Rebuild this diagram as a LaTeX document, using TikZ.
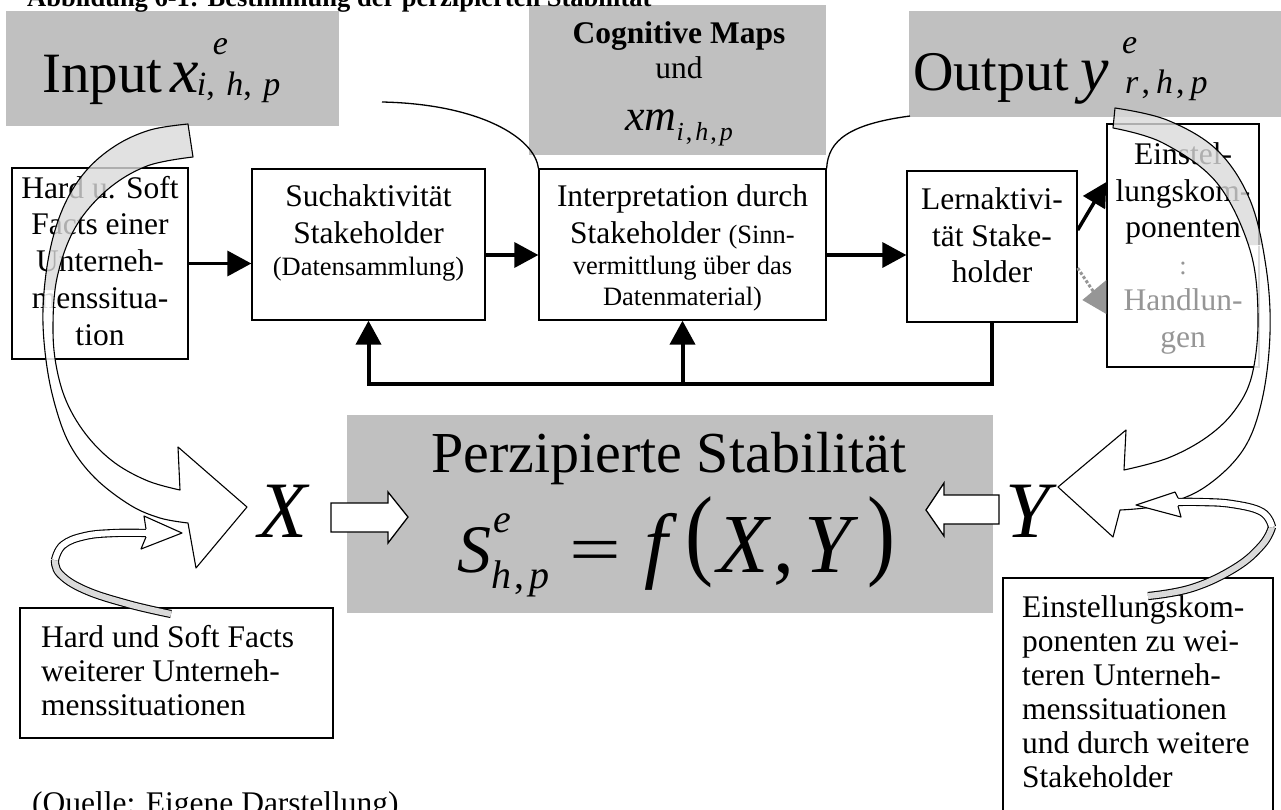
\documentclass[tikz,border=0pt]{standalone}
\usepackage{fontspec}
\setmainfont{Liberation Serif}
\usepackage{xcolor}
\definecolor{boxgray}{RGB}{192,192,192}
\definecolor{ribgray}{RGB}{218,218,218}
\definecolor{txtgray}{RGB}{150,150,150}
\usepackage{graphicx}
\usepackage{tikz}
\usetikzlibrary{arrows.meta, positioning, calc}

\newcommand{\bodyfont}{\fontsize{31.5}{36.5}\selectfont}
\newcommand{\smallbody}{\fontsize{26.5}{31}\selectfont}
\newcommand{\sidefont}{\fontsize{31.5}{34}\selectfont}
\newcommand{\subfont}{\fontsize{34}{36}\selectfont}

% outlines of the two big curved arrows
\newcommand{\bigleftpath}{plot[smooth, tension=0.6] coordinates {(188,124) (150,130) (115,146) (85,172) (63,208) (49,255) (43,310) (46,360) (55,405) (70,445) (95,478) (130,505) (160,518) (188,523)} -- (196,568) -- (247,507) -- (178,447) -- plot[smooth, tension=0.6] coordinates {(180,490) (148,481) (115,463) (88,437) (68,405) (57,370) (53,330) (57,278) (75,228) (107,190) (147,166) (193,157)} -- cycle}
\newcommand{\bigrightpath}{plot[smooth, tension=0.6] coordinates {(1115,108) (1167,120) (1217,150) (1250,200) (1266,267) (1270,333) (1262,400) (1243,450) (1205,487) (1162,505) (1120,510)} -- (1113,537) -- (1058,487) -- (1126,430) -- plot[smooth, tension=0.6] coordinates {(1124,470) (1168,458) (1207,437) (1235,410) (1252,375) (1258,317) (1250,250) (1217,183) (1163,143) (1113,128)} -- cycle}

\begin{document}
\begin{tikzpicture}[x=1pt, y=-1pt,
    graybox/.style={fill=boxgray, inner sep=0pt},
    procbox/.style={draw, fill=white, line width=1.3pt, inner sep=0pt},
    boxtext/.style={align=center, inner sep=0pt, font=\bodyfont, anchor=north},
    sidetext/.style={align=left, inner sep=0pt, font=\sidefont, anchor=north west},
    flow/.style={line width=3.5pt, -{Triangle[length=24pt, width=25pt]}},
    loopline/.style={line width=4pt, -{Triangle[length=24pt, width=25pt]}},
    thinarc/.style={line width=1.3pt},
    ribline/.style={line width=1.1pt, line join=round},
    ribbon/.style={double distance=6pt, line width=1.1pt},
    hollow/.style={draw, fill=white, line width=1.3pt}]

  \useasboundingbox (0,0) rectangle (1281,809);
  \fill[white] (0,0) rectangle (1281,809);

  % gray panels
  \node[graybox, minimum width=333pt, minimum height=115pt] (inputbg) at (172.5,68.5) {};
  \node[graybox, minimum width=297pt, minimum height=150pt] (cogbg) at (677.5,80) {};
  \node[graybox, minimum width=372pt, minimum height=106pt] (outbg) at (1095,64) {};
  \node[graybox, minimum width=646pt, minimum height=198pt] (perzbg) at (670,514) {};

  % process boxes
  \node[procbox, minimum width=176pt, minimum height=191pt] (hardsoft) at (100,263.5) {};
  \node[procbox, minimum width=233pt, minimum height=151pt] (such) at (368.5,244.5) {};
  \node[procbox, minimum width=287pt, minimum height=151pt] (interp) at (682.5,244.5) {};
  \node[procbox, minimum width=170pt, minimum height=151pt] (lern) at (992,246.5) {};
  \node[procbox, minimum width=152pt, minimum height=243pt] (einst) at (1183,245.5) {};
  \node[procbox, minimum width=313pt, minimum height=130pt] (facts) at (176.5,673) {};
  \node[procbox, minimum width=270pt, minimum height=262pt] (einstmore) at (1138,709) {};

  % thin arcs to the interpretation box
  \coordinate (arcin) at (382,102);
  \coordinate (arcout) at (910,116);
  \draw[thinarc] (arcin) .. controls (480,104) and (535,138) .. (interp.north west);
  \draw[thinarc] (interp.north east) .. controls (828,140) and (850,124) .. (arcout);

  % process flow
  \draw[flow] (hardsoft.east) -- (hardsoft.east -| such.west);
  \draw[flow] ([yshift=-10.5pt]such.east) -- ([yshift=-10.5pt]interp.west);
  \draw[flow] ([yshift=-10.5pt]interp.east) -- ([yshift=-8.5pt]lern.west);
  \draw[flow] ([yshift=16.5pt]lern.east) -- ([yshift=63.5pt]einst.west);
  \draw[txtgray, line width=3pt, dotted] ([yshift=-21.5pt]lern.east) -- ++(16,24);
  \fill[txtgray] ([yshift=-34.5pt]einst.west) -- ++(-24,20) -- ++(24,14) -- cycle;

  % feedback loop
  \coordinate (loop) at ($(lern.south)+(0,61)$);
  \draw[loopline] (lern.south) -- (loop) -| (such.south);
  \draw[loopline] (interp.south |- loop) -- (interp.south);

  % texts
  \node[anchor=base west, inner sep=0pt, font=\fontsize{26.5}{30}\selectfont\bfseries] (title) at (27,6) {Abbildung 6-1: Bestimmung der perzipierten Stabilität};
  \node[anchor=base west, inner sep=0pt] (inputtxt) at (42,92) {\fontsize{57}{60}\selectfont Input\hspace{8pt}\fontsize{64}{70}\selectfont\textit{x}\rlap{\hspace{14pt}\raisebox{38pt}{\subfont\textit{e}}}\hspace{-2pt}\raisebox{-3pt}{\subfont\textit{i},\hspace{3pt} \textit{h},\hspace{3pt} \textit{p}}};
  \node[anchor=base west, inner sep=0pt] (outtxt) at (913,90) {\fontsize{56}{60}\selectfont Output\hspace{12pt}\fontsize{64}{70}\selectfont\textit{y}\rlap{\hspace{13pt}\raisebox{37pt}{\subfont\textit{e}}}\hspace{16pt}\raisebox{-3pt}{\subfont\textit{r}\hspace{3pt},\hspace{6pt}\textit{h}\hspace{3pt},\hspace{6pt}\textit{p}}};
  \node[boxtext, font=\fontsize{31.5}{35}\selectfont] (cogtxt) at (679,21.6) {\textbf{Cognitive Maps}\\und\\[17pt]{\fontsize{44}{48}\selectfont\textit{xm}}\raisebox{-10pt}{\fontsize{26}{28}\selectfont\textit{i}\hspace{2pt},\hspace{3pt}\textit{h}\hspace{2pt},\hspace{3pt}\textit{p}}};

  \node[boxtext, font=\fontsize{31.5}{36.75}\selectfont] (hardsofttxt) at ([yshift=-8.3pt]hardsoft.north) {Hard u. Soft\\Facts einer\\Unterneh-\\menssitua-\\tion};
  \node[boxtext] (suchtxt) at ([yshift=-16.3pt]such.north) {Suchaktivität\\Stakeholder\\[-4.5pt]{\smallbody (Datensammlung)}};
  \node[boxtext] (interptxt) at ([yshift=-16.3pt]interp.north) {Interpretation durch\\Stakeholder {\smallbody (Sinn-}\\[-5pt]{\smallbody vermittlung über das}\\[-5.5pt]{\smallbody Datenmaterial)}};
  \node[boxtext] (lerntxt) at ([yshift=-17.3pt]lern.north) {Lernaktivi-\\tät Stake-\\holder};
  \node[boxtext] (einsttxt) at ([yshift=-19.2pt]einst.north) {Einstel-\\lungskom-\\ponenten\\{\smallbody\color{txtgray}:}\\{\color{txtgray}Handlun-}\\{\color{txtgray}gen}};
  \node[sidetext] (factstxt) at (41,625.3) {Hard und Soft Facts\\weiterer Unterneh-\\menssituationen};
  \node[sidetext] (einstmoretxt) at (1022,595.3) {Einstellungskom-\\ponenten zu wei-\\teren Unterneh-\\menssituationen\\und durch weitere\\Stakeholder};

  \node[anchor=base west, inner sep=0pt, font=\fontsize{58}{60}\selectfont] (perztitle) at (431,472) {Perzipierte Stabilität};
  \node[anchor=base west, inner sep=0pt] (formula) at (457,572) {\fontsize{68}{70}\selectfont\textit{S}\rlap{\hspace{2pt}\raisebox{40pt}{\fontsize{40}{42}\selectfont\textit{e}}}\raisebox{-16pt}{\fontsize{40}{42}\selectfont\textit{h}\hspace{3pt},\hspace{5pt}\textit{p}}\hspace{20pt}\scalebox{1.35}[1]{=}\hspace{24pt}\fontsize{84}{86}\selectfont\textit{f}\hspace{8pt}\raisebox{6pt}{\scalebox{1}[1.2]{(}}\hspace{4pt}\textit{X}\hspace{2pt},\hspace{10pt}\textit{Y}\hspace{8pt}\raisebox{6pt}{\scalebox{1}[1.2]{)}}};
  \node[anchor=base west, inner sep=0pt, font=\bodyfont] (source) at (32,813) {(Quelle: Eigene Darstellung)};

  % big curved arrows, gray where the ribbon shows its back
  \begin{scope}
    \clip (0,0) rectangle (1281,290);
    \fill[ribgray, fill opacity=0.8] \bigleftpath;
  \end{scope}
  \begin{scope}
    \clip (0,290) rectangle (1281,809);
    \fill[white, fill opacity=0.85] \bigleftpath;
  \end{scope}
  \draw[ribline] \bigleftpath;
  \begin{scope}
    \clip (0,0) rectangle (1281,245);
    \fill[ribgray, fill opacity=0.8] \bigrightpath;
  \end{scope}
  \begin{scope}
    \clip (0,245) rectangle (1281,809);
    \fill[white, fill opacity=0.85] \bigrightpath;
  \end{scope}
  \draw[ribline] \bigrightpath;

  % X and Y with block arrows
  \node[anchor=base west, inner sep=0pt, font=\fontsize{80}{80}\selectfont\itshape] (xsym) at (258,537) {X};
  \node[anchor=base west, inner sep=0pt, font=\fontsize{80}{80}\selectfont\itshape] (ysym) at (1005,537) {Y};
  \draw[hollow] (331,503) -- (388,503) -- (388,492) -- (408,517) -- (388,543) -- (388,532) -- (331,532) -- cycle;
  \draw[hollow] (926,510) -- (944,483) -- (944,495) -- (999,495) -- (999,524) -- (944,524) -- (944,536) -- cycle;

  % small ribbons from the lower boxes
  \draw[ribbon, double=ribgray] plot[smooth, tension=0.7] coordinates {(171,614) (128,604) (85,590) (60,574) (55,560)};
  \draw[ribbon, double=white] plot[smooth, tension=0.7] coordinates {(55,560) (63,545) (85,536) (115,533) (146,533)};
  \filldraw[ribline, fill=white] (146,529) -- (144,516) -- (182,533) -- (141,549) -- (146,537);
  \draw[ribbon, double=ribgray] plot[smooth, tension=0.7] coordinates {(1148,596) (1192,588) (1235,568) (1262,545) (1272,527)};
  \draw[ribbon, double=white] plot[smooth, tension=0.7] coordinates {(1272,527) (1262,512) (1232,504) (1200,502) (1178,502)};
  \filldraw[ribline, fill=white] (1178,498) -- (1175,492) -- (1136,505) -- (1181,517) -- (1178,506);
\end{tikzpicture}
\end{document}
